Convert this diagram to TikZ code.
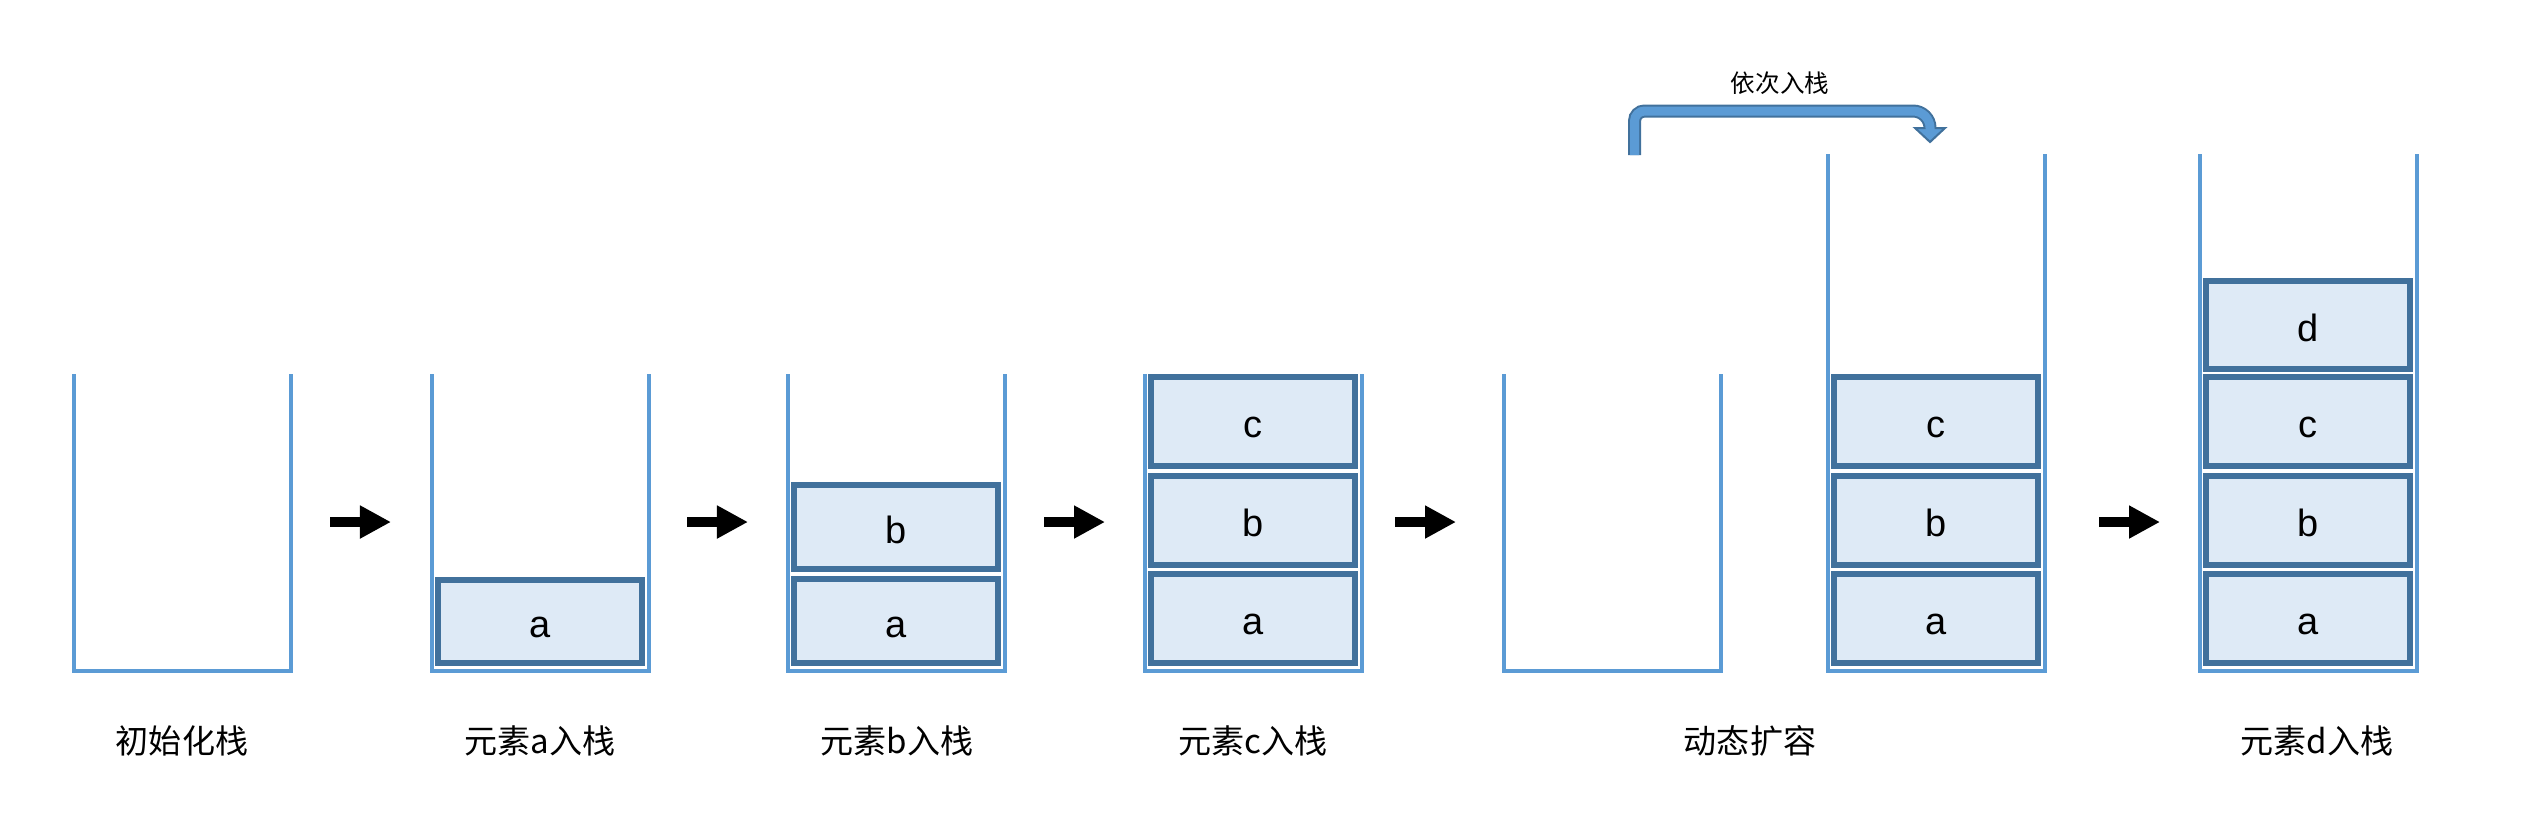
\documentclass[tikz,border=0pt]{standalone}
\usepackage{fontspec}
\setmainfont{Liberation Sans}
\newfontfamily\cjk{Noto Sans CJK SC}
\usetikzlibrary{arrows.meta}
\definecolor{stackline}{HTML}{5B9BD5}
\definecolor{boxedge}{HTML}{41719C}
\definecolor{boxfill}{HTML}{DEEAF6}
\begin{document}
\begin{tikzpicture}[x=0.01cm, y=-0.01cm]
    \tikzset{stack/.style={draw=stackline, line width=0.04cm},
        elem/.style={draw=boxedge, fill=boxfill, line width=0.06cm, inner sep=0pt,
            minimum width=2.04cm, minimum height=#1, text height=0.32cm, text depth=0cm,
            font=\fontsize{10.8}{12}\selectfont},
        elem/.default={0.89cm},
        caption/.style={font=\cjk\fontsize{9.4}{11}\selectfont},
        push/.style={line width=0.1cm, -{Triangle[length=0.31cm, width=0.31cm]}}}
    \useasboundingbox (0,0) rectangle (2522,820);
    %Stacks
    \foreach \x/\t in {74/374, 432/374, 788/374, 1145/374, 1504/374, 1828/154, 2200/154}
        \draw[stack] (\x,\t) -- (\x,671) -- (\x+217,671) -- (\x+217,\t);

    %Elemente
    \node[elem=0.83cm] (s2a) at (540,621.5) {a};
    \node[elem=0.84cm] (s3a) at (896,621)   {a};
    \node[elem=0.84cm] (s3b) at (896,527)   {b};
    \node[elem] (s4a) at (1253,618.5) {a};
    \node[elem] (s4b) at (1253,520.5) {b};
    \node[elem] (s4c) at (1253,421.5) {c};
    \node[elem] (s6a) at (1936,618.5) {a};
    \node[elem] (s6b) at (1936,520.5) {b};
    \node[elem] (s6c) at (1936,421.5) {c};
    \node[elem] (s7a) at (2308,618.5) {a};
    \node[elem] (s7b) at (2308,520.5) {b};
    \node[elem] (s7c) at (2308,421.5) {c};
    \node[elem=0.88cm] (s7d) at (2308,325) {d};

    %Pfeile
    \foreach \x in {330, 687, 1044, 1395, 2099}
        \draw[push] (\x,522) -- (\x+61,522);

    %Beschriftung
    \node[caption] (l1) at (182,741)  {初始化栈};
    \node[caption] (l2) at (540,741)  {元素a入栈};
    \node[caption] (l3) at (897,741)  {元素b入栈};
    \node[caption] (l4) at (1253,741) {元素c入栈};
    \node[caption] (l5) at (1750,741) {动态扩容};
    \node[caption] (l6) at (2317,741) {元素d入栈};

    %Umlagerung
    \coordinate (b0) at (1634.5,155);
    \coordinate (b1) at (1634.5,111);
    \coordinate (b2) at (1930,111);
    \coordinate (b3) at (1930,128);
    \coordinate (b4) at (1930,130);
    \filldraw[draw=boxedge, fill=stackline, line width=0.02cm]
        (1915,128) -- (1945,128) -- (1930,142) -- cycle;
    \draw[boxedge, line width=0.13cm] (b0) [rounded corners=0.1cm] -- (b1)
        [rounded corners=0.17cm] -- (b2) -- (b3);
    \draw[stackline, line width=0.09cm] (b0) [rounded corners=0.1cm] -- (b1)
        [rounded corners=0.17cm] -- (b2) -- (b4);
    \node[font=\cjk\fontsize{7}{8}\selectfont] (order) at (1780,83) {依次入栈};
\end{tikzpicture}
\end{document}
